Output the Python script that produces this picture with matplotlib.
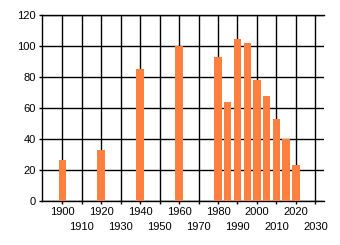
import matplotlib
matplotlib.use("Agg")
import matplotlib.pyplot as plt

years = [1900, 1920, 1940, 1960, 1980, 1985, 1990, 1995, 2000, 2005, 2010, 2015, 2020]
values = [26.5, 33, 85, 100, 93, 64, 105, 102, 78, 68, 53, 40, 23]
x_ticks_top = [1900, 1920, 1940, 1960, 1980, 2000, 2020]
x_ticks_low = [1910, 1930, 1950, 1970, 1990, 2010, 2030]
y_ticks = [0, 20, 40, 60, 80, 100, 120]

plt.rcParams["font.family"] = ["Liberation Sans", "DejaVu Sans"]

fig = plt.figure(figsize=(3.4, 2.45), dpi=100)
ax = fig.add_axes([42 / 340, 1 - 201 / 245, (324.3 - 42) / 340, (201 - 15.3) / 245])

ax.bar(years, values, width=3.8, color="#FF7F3F", zorder=3)

ax.set_xlim(1889.6, 2034.6)
ax.set_ylim(0, 120)
ax.set_yticks(y_ticks)
# two rows of labels: even decades on top, odd decades below
ax.set_xticks(x_ticks_top)
ax.set_xticks(x_ticks_low, minor=True)
ax.set_xticklabels([str(t) for t in x_ticks_top])
ax.set_xticklabels([str(t) for t in x_ticks_low], minor=True)

ax.grid(True, which="both", axis="x", color="black", linewidth=1.0)
ax.grid(True, which="major", axis="y", color="black", linewidth=1.0)
ax.set_axisbelow(True)
ax.spines["right"].set_visible(False)
for s in ["left", "bottom", "top"]:
    ax.spines[s].set_color("black")
    ax.spines[s].set_linewidth(1.0)

ax.tick_params(axis="both", which="both", length=2.5, width=1.0, color="black", labelsize=8)
ax.tick_params(axis="y", pad=2)
ax.tick_params(axis="x", which="major", pad=2)
ax.tick_params(axis="x", which="minor", pad=12.5)

fig.savefig("out.png", dpi=100, facecolor="white")
